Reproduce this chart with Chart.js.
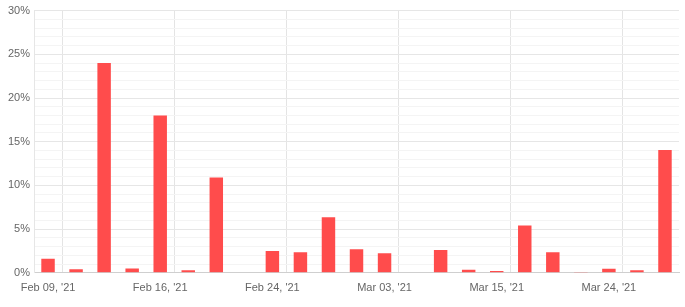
<!DOCTYPE html>
<html>
<head>
<meta charset="utf-8">
<script src="https://cdn.jsdelivr.net/npm/chart.js@4"></script>
<style>
  html, body { margin: 0; padding: 0; background: #fff; }
  #wrap { width: 685px; height: 307px; }
</style>
</head>
<body>
<div id="wrap"><canvas id="chart" width="685" height="307"></canvas></div>
<script>
const dates = [
  "Feb 09, '21", "Feb 10, '21", "Feb 11, '21", "Feb 12, '21",
  "Feb 16, '21", "Feb 17, '21", "Feb 18, '21", "Feb 19, '21",
  "Feb 24, '21", "Feb 25, '21", "Feb 26, '21", "Mar 01, '21",
  "Mar 03, '21", "Mar 04, '21", "Mar 05, '21", "Mar 09, '21",
  "Mar 15, '21", "Mar 16, '21", "Mar 17, '21", "Mar 22, '21",
  "Mar 24, '21", "Mar 25, '21", "Mar 26, '21"
];
const returns = [
  1.6, 0.4, 24.0, 0.5, 18.0, 0.3, 10.9, 0,
  2.5, 2.35, 6.35, 2.7, 2.25, 0,
  2.6, 0.35, 0.2, 5.4, 2.35, 0.1, 0.45, 0.3, 14.05
];
const labelEvery = 4;

const ctx = document.getElementById('chart').getContext('2d');
new Chart(ctx, {
  type: 'bar',
  data: {
    labels: dates,
    datasets: [{
      data: returns,
      backgroundColor: '#ff4c4c',
      borderWidth: 0,
      barPercentage: 0.48,
      categoryPercentage: 1.0
    }]
  },
  options: {
    responsive: false,
    animation: false,
    layout: { padding: { left: 4, right: 6, top: 2, bottom: 3 } },
    plugins: { legend: { display: false }, tooltip: { enabled: false } },
    scales: {
      x: {
        grid: {
          offset: true,
          drawTicks: false,
          color: (c) => (c.index % labelEvery === 1 || c.index === dates.length) ? '#e4e4e4' : 'rgba(0,0,0,0)'
        },
        border: { color: '#cfcfcf' },
        ticks: {
          autoSkip: false,
          maxRotation: 0,
          padding: 9,
          color: '#666',
          font: { family: 'Liberation Sans', size: 11 },
          callback: (v, i) => (i % labelEvery === 0 ? dates[i] : '')
        }
      },
      y: {
        min: 0,
        max: 30,
        grid: {
          drawTicks: false,
          color: (c) => (c.tick && c.tick.value % 5 === 0) ? '#e6e6e6' : '#f4f4f4'
        },
        border: { color: '#e6e6e6' },
        ticks: {
          stepSize: 1,
          autoSkip: false,
          padding: 4,
          color: '#666',
          font: { family: 'Liberation Sans', size: 11 },
          callback: (v) => (v % 5 === 0 ? v + '%' : '')
        }
      }
    }
  }
});
</script>
</body>
</html>
